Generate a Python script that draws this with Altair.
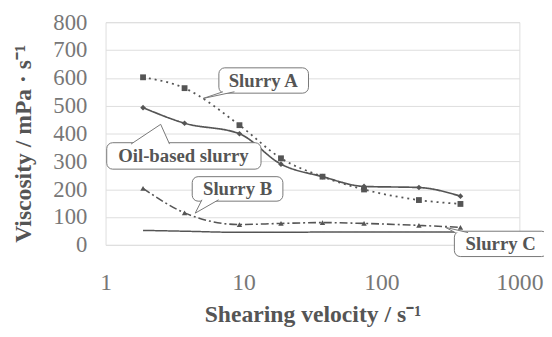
import altair as alt
import pandas as pd

shear = [1.87, 3.74, 9.35, 18.7, 37.4, 74.8, 187, 374]
slurry_a = [602, 563, 430, 311, 245, 199, 161, 147]
oil_based = [493, 437, 399, 290, 245, 210, 206, 175]
slurry_b = [203, 115, 73, 77, 80, 77, 70, 63]
slurry_c = [52, 49, 45, 45, 46, 46, 46, 46]

series_names = ["Slurry A", "Oil-based slurry", "Slurry B", "Slurry C"]
series_values = [slurry_a, oil_based, slurry_b, slurry_c]

y_ticks = [0, 100, 200, 300, 400, 500, 600, 700, 800]
x_ticks = [1, 10, 100, 1000]

# callout labels: text, text anchor, box corners, wedge (base1, tip, base2)
call_text = ["Slurry A", "Oil-based slurry", "Slurry B", "Slurry C"]
call_tx = [13.9, 3.67, 9.06, 732]
call_ty = [590, 318, 199, 3]
box_x1 = [6.63, 1.02, 4.25, 338]
box_x2 = [29.6, 13.4, 19.3, 1600]
box_y1 = [636, 367, 245, 49]
box_y2 = [545, 272, 157, -42]
wedge_x = [[7.1, 5.1, 8.6], [1.53, 2.51, 2.91], [5.0, 4.47, 6.6], [343, 291, 425]]
wedge_y = [[550, 526, 550], [362, 433, 362], [162, 114, 162], [44, 63, 44]]

rows = []
for name, vals in zip(series_names, series_values):
    for x, y in zip(shear, vals):
        rows.append({"x": x, "y": y, "series": name})
df = pd.DataFrame(rows)

boxes = pd.DataFrame({"x": box_x1, "x2": box_x2, "y": box_y1, "y2": box_y2, "label": call_text})
texts = pd.DataFrame({"x": call_tx, "y": call_ty, "label": call_text})
wrows = []
for i, (wx, wy) in enumerate(zip(wedge_x, wedge_y)):
    for j, (a, b) in enumerate(zip(wx, wy)):
        wrows.append({"x": a, "y": b, "w": i, "o": j})
wedges = pd.DataFrame(wrows)

GRAY = "#555555"
SERIF = "Liberation Serif"
xscale = alt.Scale(type="log", domain=[1, 1000], nice=False)
yscale = alt.Scale(domain=[0, 800], nice=False)

xaxis = alt.Axis(values=x_ticks, format="d", grid=False, ticks=False, domain=False,
                 labelFont=SERIF, labelFontSize=24, labelColor="#777777", labelOverlap=False,
                 labelPadding=26, title="Shearing velocity / s⁻¹", titleFont=SERIF,
                 titleFontSize=24, titleFontWeight="bold", titleColor=GRAY, titleY=71,
                 titleBaseline="middle", labelFlush=False)
yaxis = alt.Axis(values=y_ticks, grid=True, gridColor="#dddddd", ticks=False, domain=False,
                 labelFont=SERIF, labelFontSize=23, labelColor="#777777", labelOverlap=False,
                 labelPadding=19, title="Viscosity / mPa · s⁻¹", titleFont=SERIF,
                 titleFontSize=24, titleFontWeight="bold", titleColor=GRAY, titleX=-83,
                 titleY=123, titleBaseline="middle")

X = alt.X("x:Q", scale=xscale, axis=xaxis)
Y = alt.Y("y:Q", scale=yscale, axis=yaxis)

lines = alt.Chart(df).mark_line(color=GRAY, interpolate="monotone").encode(
    x=X, y=Y,
    strokeDash=alt.StrokeDash("series:N", scale=alt.Scale(domain=series_names,
                              range=[[2, 4], [1, 0], [8, 3, 2, 3], [1, 0]]), legend=None),
    strokeWidth=alt.StrokeWidth("series:N", scale=alt.Scale(domain=series_names,
                                range=[1.8, 1.5, 1.5, 1.0]), legend=None),
    detail="series:N",
)
points = alt.Chart(df).mark_point(filled=True, color=GRAY, opacity=1).encode(
    x=X, y=Y,
    shape=alt.Shape("series:N", scale=alt.Scale(domain=series_names,
                    range=["square", "diamond", "triangle-up", "stroke"]), legend=None),
    size=alt.Size("series:N", scale=alt.Scale(domain=series_names, range=[35, 28, 32, 16]), legend=None),
)

box_layer = alt.Chart(boxes).mark_rect(fill="white", stroke="#777777", strokeWidth=1,
                                       cornerRadius=6).encode(x=X, x2="x2:Q", y=Y, y2="y2:Q")
wedge_layer = alt.Chart(wedges).mark_line(fill="white", stroke="#777777", strokeWidth=1,
                                          interpolate="linear").encode(
    x=X, y=Y, detail="w:N", order="o:Q")
text_layer = alt.Chart(texts).mark_text(font=SERIF, fontSize=19, fontWeight="bold",
                                        color=GRAY, baseline="middle", align="center").encode(
    x=X, y=Y, text="label:N")

chart = alt.layer(lines, points, box_layer, wedge_layer, text_layer).properties(
    width=420, height=226,
    autosize=alt.AutoSizeParams(type="none"),
    padding={"left": 99, "top": 12, "right": 25, "bottom": 83},
).configure_view(stroke=GRAY, strokeWidth=1.5).configure(background="white")

chart.save("out.html", embed_options={"renderer": "svg", "actions": False})
